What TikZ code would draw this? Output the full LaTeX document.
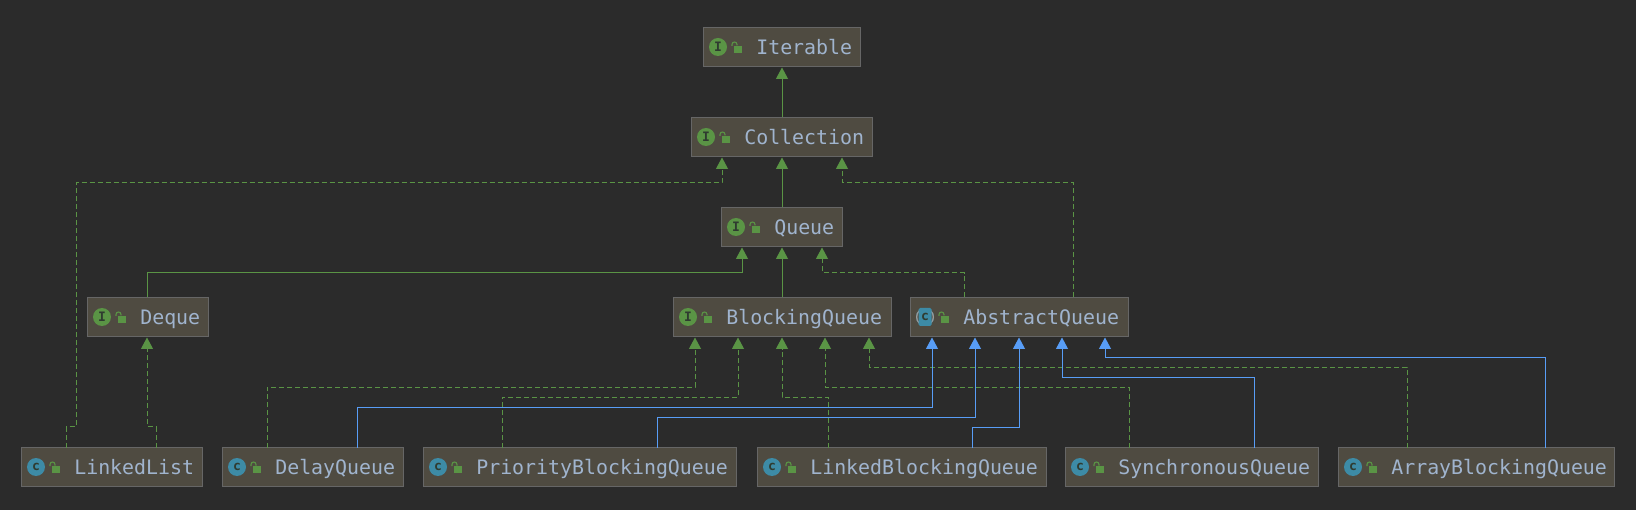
\documentclass[tikz,border=0pt]{standalone}
\usepackage{fontspec}
\setmonofont{DejaVu Sans Mono}
\usetikzlibrary{arrows.meta}
\definecolor{bgc}{HTML}{2B2B2B}
\definecolor{boxfill}{HTML}{4F4B41}
\definecolor{boxline}{HTML}{666666}
\definecolor{greenc}{HTML}{5A9445}
\definecolor{linkblue}{HTML}{589DF6}
\definecolor{labelc}{HTML}{A0B4CE}
\definecolor{teal}{HTML}{3D8BA6}
\definecolor{darkletter}{HTML}{2F3B30}
\definecolor{ringc}{HTML}{9A9A9A}
\tikzset{
  x=1pt,y=-1pt,
  umlbox/.style={draw=boxline,fill=boxfill,line width=1.2pt,rectangle,outer sep=0pt,inner sep=0pt},
  umllabel/.style={anchor=base west,inner sep=0pt,outer sep=0pt,text=labelc,font=\ttfamily\fontsize{19.9}{20}\selectfont},
  iconcirc/.style={circle,inner sep=0pt,outer sep=0pt,minimum size=18pt,text=darkletter,font=\ttfamily\bfseries\fontsize{13}{13}\selectfont},
  inherit/.style={draw=greenc,line width=1pt,-{Triangle[length=11.5pt,width=12pt,fill=greenc]},shorten >=1pt},
  impl/.style={inherit,dash pattern=on 5pt off 3pt},
  extc/.style={draw=linkblue,line width=1pt,-{Triangle[length=11.5pt,width=12pt,fill=linkblue]},shorten >=1pt}
}
% name, x1, x2, y1, label, kind letter
\newcommand\umlnode[6]{%
  \node[umlbox,minimum width=#3-#2,minimum height=39] (#1) at ({(#2+#3)/2+0.1},{#4+20}) {};
  \node[umllabel] (#1-t) at ({#2+53.3},{#4+27.8}) {#5};
  \ifx#6I
    \node[iconcirc,fill=greenc] (#1-i) at ({#2+15},{#4+20}) {I};
  \else
    \node[iconcirc,fill=teal] (#1-i) at ({#2+15},{#4+20}) {c};
  \fi
  \fill[greenc] ({#2+31.3},{#4+19}) rectangle ({#2+39.3},{#4+25.7});
  \draw[greenc,line width=1.1pt] ({#2+29},{#4+19}) -- ({#2+29},{#4+17.5}) arc[start angle=180,end angle=0,radius=2.5pt] -- ({#2+34},{#4+18.5});
}
\begin{document}
\begin{tikzpicture}
\useasboundingbox (0,0) rectangle (1636,510);
\fill[bgc] (0,0) rectangle (1636,510);

\umlnode{it}{703}{860}{27}{Iterable}{I}
\umlnode{co}{691}{872}{117}{Collection}{I}
\umlnode{qu}{721}{842}{207}{Queue}{I}
\umlnode{de}{87}{208}{297}{Deque}{I}
\umlnode{bq}{673}{891}{297}{BlockingQueue}{I}
\umlnode{aq}{910}{1128}{297}{AbstractQueue}{C}
\umlnode{ll}{21}{202}{447}{LinkedList}{C}
\umlnode{dq}{222}{403}{447}{DelayQueue}{C}
\umlnode{pq}{423}{736}{447}{PriorityBlockingQueue}{C}
\umlnode{lb}{757}{1046}{447}{LinkedBlockingQueue}{C}
\umlnode{sq}{1065}{1318}{447}{SynchronousQueue}{C}
\umlnode{ab}{1338}{1614}{447}{ArrayBlockingQueue}{C}

% AbstractQueue icon overlay
\fill[ringc] (aq-i.center) circle[radius=9pt];
\fill[boxfill] (aq-i.center) circle[radius=7.6pt];
\node[fill=teal,rounded corners=1.5pt,minimum width=13pt,minimum height=18pt,inner sep=0pt,text=darkletter,font=\ttfamily\bfseries\fontsize{13}{13}\selectfont] (aq-c) at (aq-i.center) {c};

\draw[inherit] (co.north -| 782,0) -- (it.south -| 782,0);
\draw[inherit] (qu.north -| 782,0) -- (co.south -| 782,0);
\draw[inherit] (bq.north -| 782,0) -- (qu.south -| 782,0);
\draw[inherit] (de.north -| 147,0) -- (147,272.5) -- (742,272.5) -- (qu.south -| 742,0);
\draw[impl] (aq.north -| 964,0) -- (964,273) -- (822,273) -- (qu.south -| 822,0);
\draw[impl] (aq.north -| 1073,0) -- (1073,183) -- (842,183) -- (co.south -| 842,0);
\draw[impl] (ll.north -| 66,0) -- (66,427) -- (76,427) -- (76,183) -- (722,183) -- (co.south -| 722,0);
\draw[impl] (ll.north -| 156,0) -- (156,427) -- (147,427) -- (de.south -| 147,0);
\draw[impl] (dq.north -| 267,0) -- (267,387.5) -- (695,387.5) -- (bq.south -| 695,0);
\draw[impl] (pq.north -| 502,0) -- (502,397.5) -- (738,397.5) -- (bq.south -| 738,0);
\draw[impl] (lb.north -| 828,0) -- (828,397.5) -- (782,397.5) -- (bq.south -| 782,0);
\draw[impl] (sq.north -| 1129,0) -- (1129,387.5) -- (825,387.5) -- (bq.south -| 825,0);
\draw[impl] (ab.north -| 1407,0) -- (1407,367.5) -- (869,367.5) -- (bq.south -| 869,0);
\draw[extc] (dq.north -| 357,0) -- (357,407.5) -- (932,407.5) -- (aq.south -| 932,0);
\draw[extc] (pq.north -| 657,0) -- (657,417.5) -- (975,417.5) -- (aq.south -| 975,0);
\draw[extc] (lb.north -| 972,0) -- (972,427.5) -- (1019,427.5) -- (aq.south -| 1019,0);
\draw[extc] (sq.north -| 1254,0) -- (1254,377.5) -- (1062,377.5) -- (aq.south -| 1062,0);
\draw[extc] (ab.north -| 1545,0) -- (1545,357.5) -- (1105,357.5) -- (aq.south -| 1105,0);
\end{tikzpicture}
\end{document}
